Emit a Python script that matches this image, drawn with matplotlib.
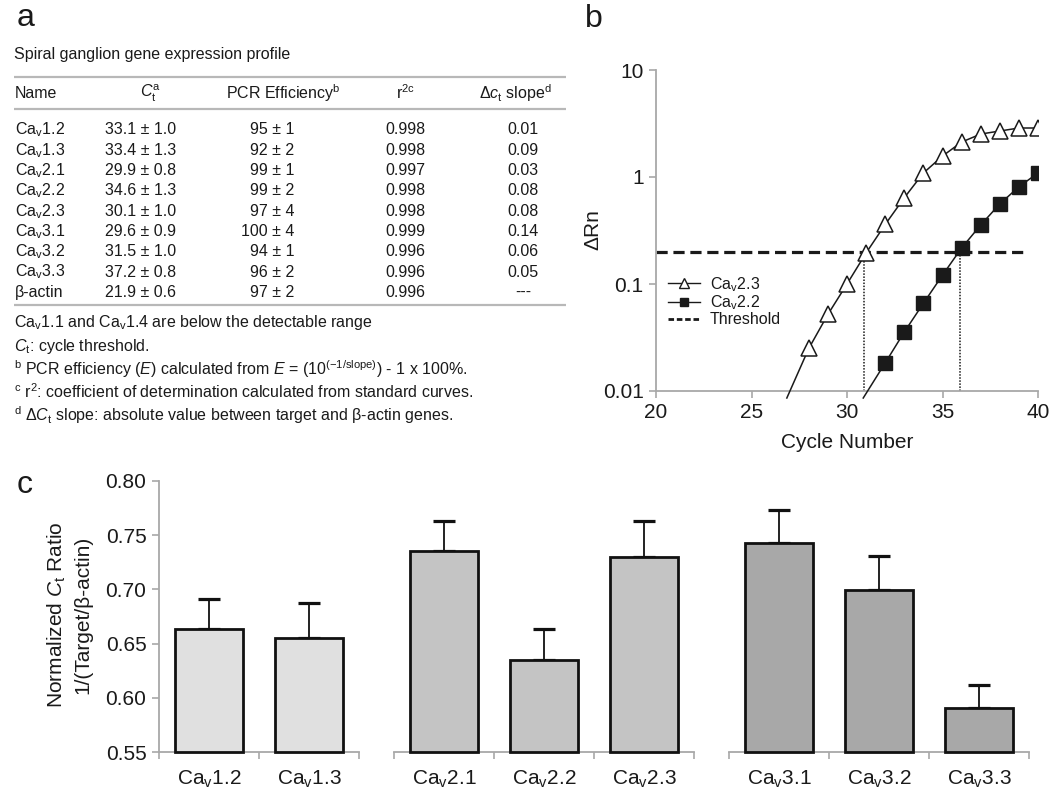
import matplotlib
matplotlib.use('Agg')
import matplotlib.pyplot as plt
from matplotlib.lines import Line2D
from matplotlib.ticker import NullLocator, FixedLocator, FixedFormatter

plt.rcParams['font.family'] = ['Liberation Sans', 'DejaVu Sans']
plt.rcParams['mathtext.fontset'] = 'custom'
plt.rcParams['mathtext.rm'] = 'Liberation Sans'
plt.rcParams['mathtext.it'] = 'Liberation Sans:italic'
plt.rcParams['mathtext.bf'] = 'Liberation Sans:bold'
plt.rcParams['text.color'] = '#1a1a1a'

# ---- panel a: expression table ----
table_title = 'Spiral ganglion gene expression profile'
col_headers = ['Name', r'$C_\mathregular{t}^\mathregular{a}$', r'PCR Efficiency$^\mathregular{b}$',
               r'r$^\mathregular{2c}$', r'Δ$c_\mathregular{t}$ slope$^\mathregular{d}$']
gene_names = [r'Ca$_\mathregular{v}$1.2', r'Ca$_\mathregular{v}$1.3', r'Ca$_\mathregular{v}$2.1',
              r'Ca$_\mathregular{v}$2.2', r'Ca$_\mathregular{v}$2.3', r'Ca$_\mathregular{v}$3.1',
              r'Ca$_\mathregular{v}$3.2', r'Ca$_\mathregular{v}$3.3', 'β-actin']
ct_vals = ['33.1 ± 1.0', '33.4 ± 1.3', '29.9 ± 0.8', '34.6 ± 1.3', '30.1 ± 1.0',
           '29.6 ± 0.9', '31.5 ± 1.0', '37.2 ± 0.8', '21.9 ± 0.6']
pcr_eff = ['95 ± 1', '92 ± 2', '99 ± 1', '99 ± 2', '97 ± 4', '100 ± 4', '94 ± 1', '96 ± 2', '97 ± 2']
r2_vals = ['0.998', '0.998', '0.997', '0.998', '0.998', '0.999', '0.996', '0.996', '0.996']
dct_slope = ['0.01', '0.09', '0.03', '0.08', '0.08', '0.14', '0.06', '0.05', '---']
footnotes = [r'Ca$_\mathregular{v}$1.1 and Ca$_\mathregular{v}$1.4 are below the detectable range',
             r'$C_\mathregular{t}$: cycle threshold.',
             r'$^\mathregular{b}$ PCR efficiency ($E$) calculated from $E$ = (10$^\mathregular{(-1/slope)}$) - 1 x 100%.',
             r'$^\mathregular{c}$ r$^\mathregular{2}$: coefficient of determination calculated from standard curves.',
             r'$^\mathregular{d}$ Δ$C_\mathregular{t}$ slope: absolute value between target and β-actin genes.']

# ---- panel b: amplification curves ----
cycles23 = [28, 29, 30, 31, 32, 33, 34, 35, 36, 37, 38, 39, 40]
drn23 = [0.025, 0.052, 0.10, 0.195, 0.36, 0.64, 1.09, 1.57, 2.12, 2.52, 2.69, 2.87, 2.87]
cycles22 = [32, 33, 34, 35, 36, 37, 38, 39, 40]
drn22 = [0.0183, 0.0356, 0.066, 0.121, 0.217, 0.356, 0.56, 0.81, 1.09]
tail23 = (26.85, 0.0086)
tail22 = (30.85, 0.0086)
threshold = 0.2
ct23, ct22 = 30.9, 35.9

# ---- panel c: normalized Ct ratio ----
bar_labels = [r'Ca$_\mathregular{v}$1.2', r'Ca$_\mathregular{v}$1.3',
              r'Ca$_\mathregular{v}$2.1', r'Ca$_\mathregular{v}$2.2', r'Ca$_\mathregular{v}$2.3',
              r'Ca$_\mathregular{v}$3.1', r'Ca$_\mathregular{v}$3.2', r'Ca$_\mathregular{v}$3.3']
ratio = [0.6635, 0.6555, 0.735, 0.6345, 0.730, 0.7425, 0.6995, 0.5905]
ratio_err = [0.028, 0.032, 0.028, 0.029, 0.033, 0.031, 0.031, 0.021]
group_sizes = [2, 3, 3]
group_colors = ['#e0e0e0', '#c4c4c4', '#a8a8a8']

W, H = 1050, 790
fig = plt.figure(figsize=(10.5, 7.9), dpi=100)
grey = '#a8a8a8'
ink = '#1a1a1a'

# panel a
axa = fig.add_axes([0, 1 - 430 / H, 580 / W, 430 / H])
axa.set_xlim(0, 580)
axa.set_ylim(430, 0)
axa.axis('off')
fs = 11.5
axa.text(14, 55, table_title, fontsize=fs, va='center')
for yy in [77, 109, 305]:
    axa.plot([14, 566], [yy, yy], color='#b8b8b8', lw=1.6, solid_capstyle='butt')
hx = [(15, 'left'), (150, 'center'), (283, 'center'), (406, 'center'), (515, 'center')]
for (x, ha), txt in zip(hx, col_headers):
    axa.text(x, 93, txt, fontsize=fs, ha=ha, va='center')
for i in range(len(gene_names)):
    y = 130 + 20.3 * i
    axa.text(15, y, gene_names[i], fontsize=fs, va='center')
    axa.text(105, y, ct_vals[i], fontsize=fs, va='center')
    axa.text(294, y, pcr_eff[i], fontsize=fs, va='center', ha='right')
    axa.text(405, y, r2_vals[i], fontsize=fs, va='center', ha='center')
    axa.text(523, y, dct_slope[i], fontsize=fs, va='center', ha='center')
for i, note in enumerate(footnotes):
    axa.text(14, 323 + 23 * i, note, fontsize=fs, va='center')

# panel b
axb = fig.add_axes([656 / W, 1 - 391 / H, (1038 - 656) / W, (391 - 70) / H])
axb.set_yscale('log')
axb.set_xlim(20, 40)
axb.set_ylim(0.01, 10)
axb.plot([tail23[0]] + cycles23, [tail23[1]] + drn23, color=ink, lw=1.1, clip_on=False, zorder=3)
axb.plot(cycles23, drn23, ls='none', marker='^', ms=11, mfc='white', mec=ink, mew=1.1, zorder=4)
axb.plot([tail22[0]] + cycles22, [tail22[1]] + drn22, color=ink, lw=1.1, clip_on=False, zorder=3)
axb.plot(cycles22, drn22, ls='none', marker='s', ms=10, mfc='#1a1a1a', mec=ink, mew=1, zorder=4)
axb.hlines(threshold, 20, 39.5, colors=ink, lw=2.3, linestyles=(0, (3.5, 1.8)))
axb.vlines([ct23, ct22], 0.01, threshold, colors=ink, lw=1.1, linestyles=(0, (1, 1)))
for s in ['top', 'right']:
    axb.spines[s].set_visible(False)
for s in ['left', 'bottom']:
    axb.spines[s].set_color(grey)
    axb.spines[s].set_linewidth(1.3)
axb.yaxis.set_major_locator(FixedLocator([0.01, 0.1, 1, 10]))
axb.yaxis.set_major_formatter(FixedFormatter(['0.01', '0.1', '1', '10']))
axb.yaxis.set_minor_locator(NullLocator())
axb.set_xticks([20, 25, 30, 35, 40])
axb.tick_params(colors=grey, labelcolor=ink, labelsize=15, length=5, width=1.2, pad=4)
handles = [Line2D([], [], color=ink, lw=1, marker='^', ms=7, mfc='white', mec=ink),
           Line2D([], [], color=ink, lw=1, marker='s', ms=6, mfc=ink, mec=ink),
           Line2D([], [], color=ink, lw=2, ls=(0, (2, 1)))]
leg_labels = [r'Ca$_\mathregular{v}$2.3', r'Ca$_\mathregular{v}$2.2', 'Threshold']
fig.legend(handles, leg_labels, loc='upper left', bbox_to_anchor=(668 / W, 1 - 275 / H),
           frameon=False, fontsize=11.5, handlelength=2.0, handletextpad=0.6,
           labelspacing=0.0, borderpad=0, borderaxespad=0)
fig.text(593 / W, 1 - 230 / H, 'ΔRn', fontsize=15, rotation=90, ha='center', va='center')
fig.text(847 / W, 1 - 442 / H, 'Cycle Number', fontsize=15, ha='center', va='center')

# panel c
axc = fig.add_axes([159 / W, 1 - 752 / H, (1027 - 159) / W, (752 - 481) / H])
axc.set_xlim(-0.5, 8.18)
axc.set_ylim(0.55, 0.80)
positions, colors, seg = [], [], []
start = 0.0
for g, n in enumerate(group_sizes):
    pts = [start + k for k in range(n)]
    positions += pts
    colors += [group_colors[g]] * n
    seg.append((pts[0] - 0.5, pts[-1] + 0.5, n))
    start = pts[-1] + 1.35
heights = [v - 0.55 for v in ratio]
axc.bar(positions, heights, bottom=0.55, width=0.68, color=colors, edgecolor='#111111',
        linewidth=2, zorder=3, clip_on=False)
axc.errorbar(positions, ratio, yerr=[[0] * len(ratio), ratio_err], fmt='none', ecolor='#111111',
             elinewidth=1.3, capsize=8, capthick=2.3, zorder=2)
for s in ['top', 'right', 'bottom']:
    axc.spines[s].set_visible(False)
axc.spines['left'].set_color(grey)
axc.spines['left'].set_linewidth(1.3)
for x0, x1, n in seg:
    axc.plot([x0, x1], [0.55, 0.55], color=grey, lw=1.3, clip_on=False, zorder=1)
    axc.vlines([x0 + k for k in range(n + 1)], 0.55 - 0.0062, 0.55, colors=grey, lw=1.2,
               clip_on=False, zorder=1)
axc.set_yticks([0.55, 0.60, 0.65, 0.70, 0.75, 0.80])
axc.set_yticklabels(['0.55', '0.60', '0.65', '0.70', '0.75', '0.80'])
axc.set_xticks(positions)
axc.set_xticklabels(bar_labels)
axc.tick_params(axis='y', colors=grey, labelcolor=ink, labelsize=15, length=5, width=1.2, pad=4)
axc.tick_params(axis='x', length=0, labelsize=15, labelcolor=ink, pad=12)
fig.text(69 / W, 1 - 615 / H, 'Normalized $C_\\mathregular{t}$ Ratio\n1/(Target/β-actin)', fontsize=15,
         rotation=90, ha='center', va='center', linespacing=1.4, multialignment='center')

# panel letters
fig.text(17 / W, 1 - 26 / H, 'a', fontsize=23, va='baseline')
fig.text(585 / W, 1 - 27 / H, 'b', fontsize=23, va='baseline')
fig.text(17 / W, 1 - 493 / H, 'c', fontsize=23, va='baseline')

fig.savefig('out.png', dpi=100)
